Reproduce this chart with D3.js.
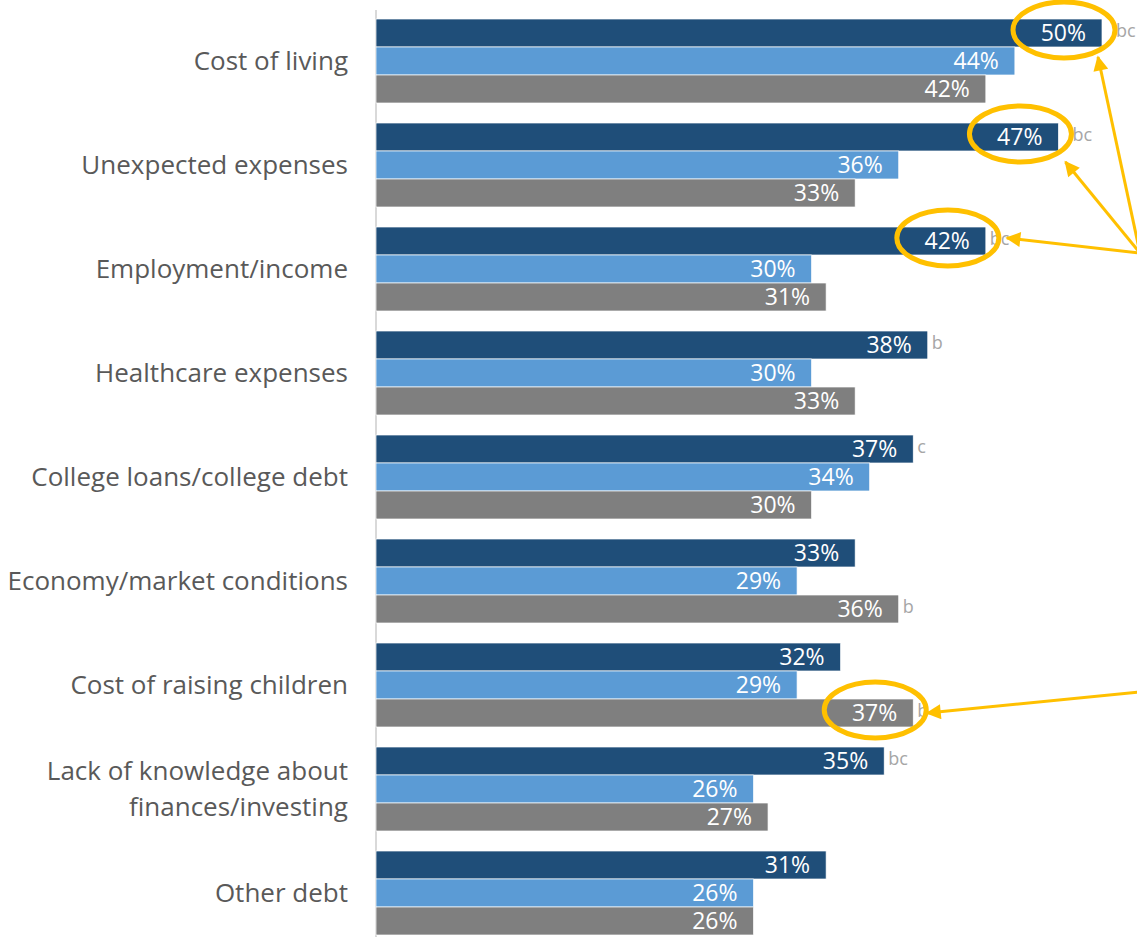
<!DOCTYPE html>
<html>
<head>
<meta charset="utf-8">
<script src="https://cdn.jsdelivr.net/npm/d3@7"></script>
<style>
  body { margin:0; background:#fff; }
  svg text { font-family:"Open Sans", sans-serif; }
</style>
</head>
<body>
<div id="plot"></div>
<script>
// data
var categories = ["Cost of living","Unexpected expenses","Employment/income","Healthcare expenses",
  "College loans/college debt","Economy/market conditions","Cost of raising children",
  "Lack of knowledge about|finances/investing","Other debt"];
var series = ["a","b","c"];
var valuesA = [50,47,42,38,37,33,32,35,31];
var valuesB = [44,36,30,30,34,29,29,26,26];
var valuesC = [42,33,31,33,30,36,37,27,26];
// significance letters next to bars
var sigA = ["bc","bc","bc","b","c","","","bc",""];
var sigB = ["","","","","","","","",""];
var sigC = ["","","","","","b","b","",""];
// highlighted labels: [category index, series index]
var highlights = [[0,0],[1,0],[2,0],[6,2]];

var colors = {a:"#1F4E79", b:"#5B9BD5", c:"#7F7F7F"};
var W = 1137, H = 937;

var svg = d3.select('#plot').append('svg')
  .attr('width',W).attr('height',H);

var x = d3.scaleLinear().domain([0,50]).range([376,1102]);
var y0 = d3.scaleBand().domain(categories).range([19,935]).paddingInner(20/104).paddingOuter(0);
var y1 = d3.scaleBand().domain(series).range([0,y0.bandwidth()]);

var rows = categories.map(function(c,i){
  return {cat:c, vals:[
    {s:"a", v:valuesA[i], sig:sigA[i]},
    {s:"b", v:valuesB[i], sig:sigB[i]},
    {s:"c", v:valuesC[i], sig:sigC[i]}]};
});

// axis line
svg.append('line')
  .attr('x1',x(0)).attr('x2',x(0)).attr('y1',10).attr('y2',H)
  .attr('stroke','#d9d9d9').attr('stroke-width',2);

var g = svg.selectAll('.grp').data(rows).enter().append('g')
  .attr('class','grp')
  .attr('transform',function(d){ return 'translate(0,'+y0(d.cat)+')'; });

g.selectAll('rect').data(function(d){ return d.vals; }).enter().append('rect')
  .attr('x',x(0))
  .attr('y',function(d){ return y1(d.s); })
  .attr('width',function(d){ return x(d.v)-x(0); })
  .attr('height',y1.bandwidth())
  .attr('fill',function(d){ return colors[d.s]; })
  .attr('stroke','#fff').attr('stroke-width',0.7);

g.selectAll('.val').data(function(d){ return d.vals; }).enter().append('text')
  .attr('class','val')
  .attr('x',function(d){ return x(d.v)-16; })
  .attr('y',function(d){ return y1(d.s)+y1.bandwidth()/2+8; })
  .attr('text-anchor','end')
  .attr('fill','#fff').attr('font-size',23)
  .text(function(d){ return d.v+'%'; });

g.selectAll('.sig').data(function(d){ return d.vals.filter(function(v){ return v.sig; }); })
  .enter().append('text')
  .attr('class','sig')
  .attr('x',function(d){ return x(d.v)+(d.v>=47 ? 14 : 4); })
  .attr('y',function(d){ return y1(d.s)+y1.bandwidth()/2+4; })
  .attr('fill','#a6a6a6').attr('font-size',18)
  .text(function(d){ return d.sig; });

// category labels
g.append('text')
  .attr('text-anchor','end')
  .attr('fill','#595959').attr('font-size',26)
  .each(function(d){
    var lines = d.cat.split('|');
    var t = d3.select(this);
    var start = y0.bandwidth()/2 + 9 - (lines.length-1)*18;
    lines.forEach(function(l,i){
      t.append('tspan').attr('x',348).attr('y',start+i*36).text(l);
    });
  });

// highlight ellipses and arrows
svg.append('defs').append('marker')
  .attr('id','arr').attr('viewBox','0 0 10 10').attr('refX',9).attr('refY',5)
  .attr('markerWidth',6).attr('markerHeight',5).attr('orient','auto')
  .attr('markerUnits','strokeWidth')
  .append('path').attr('d','M0,0L10,5L0,10z').attr('fill','#FFC000');

var tips = [[-4,24],[7,25],[21,-3],[14,0]];
var origins = [253,253,253,692];
highlights.forEach(function(h,i){
  var v = rows[h[0]].vals[h[1]];
  var cy = y0(rows[h[0]].cat)+y1(v.s)+y1.bandwidth()/2;
  var cx = x(v.v);
  svg.append('ellipse')
    .attr('cx',cx-38).attr('cy',cy-3).attr('rx',51).attr('ry',28)
    .attr('fill','none').attr('stroke','#FFC000').attr('stroke-width',5);
  svg.append('line')
    .attr('x1',1140).attr('y1',origins[i])
    .attr('x2',cx+tips[i][0]).attr('y2',cy+tips[i][1])
    .attr('stroke','#FFC000').attr('stroke-width',3)
    .attr('marker-end','url(#arr)');
});
</script>
</body>
</html>
